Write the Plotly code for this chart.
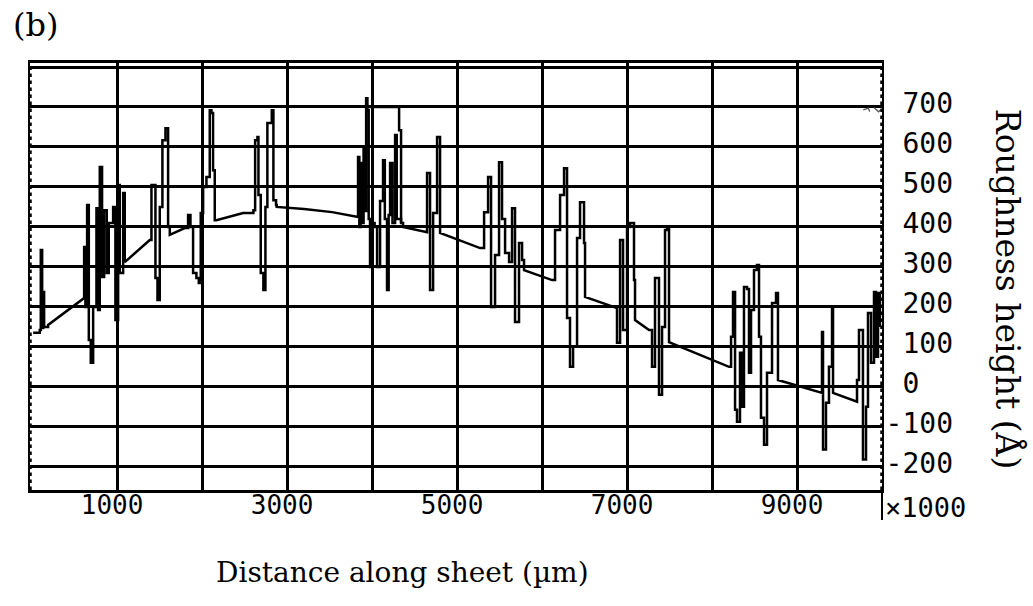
import plotly.graph_objects as go

# Surface profile trace: distance along the sheet (um) vs roughness height (Angstrom).
# None entries split the trace into separate pen strokes.
dist = [
    12, 90, 102, 118, 130, 141, 188, 600, 612, 627, 647, 667, 690, 718, 757, 776, 796, 823, 847,
    878, 902, 953, 980, 1012, 1031, 1071, 1090,
    1384, 1404, 1451, 1475, 1502, 1533, 1569, 1600, 1620, 1796, 1835, 1863, 1894, 1933, 1961,
    1984, 2012, 2051, 2090, 2110, 2129, 2149, 2169, 2482,
    2604, 2624, 2651, 2663, 2690, 2721, 2745, 2768, 2820, 2839, 2870, 2878, 3200, 3530, 3820,
    3835, 3850, 3865, 3882, 3900, 3918, 3930, 3945, 3960, 3976, 4000, 4030, 4059, 4094, 4129,
    4150, 4176, 4195, 4212, 4240, 4271, 4290, 4341, 4365, 4623, 4647, 4682, 4718, 4765, 4800,
    5271, 5318, 5365, 5400, 5447, 5494, 5529, 5565, 5612, 5647, 5682, 5729, 5765, 5788, 6118,
    6153, 6212, 6259, 6294, 6329, 6365, 6412, 6447, 6494, 6506, 6859,
    6882, 6918, 6953, 7000, 7035, 7082, 7094, 7259,
    7294, 7329, 7376, 7412, 7447, 7471, 7494, 8200,
    8224, 8247, 8271, 8294, 8329, 8353, 8376, 8412, 8435, 8459, 8494, 8529, 8553, 8576, 8612,
    8647, 8706, 8753, 8776, 9282,
    9294, 9306, 9341, 9376, 9412, 9424, 9694,
    9706, 9729, 9776, 9812, 9835, 9871, 9906, 9929, 9953, 9976,
    None,
    3945, 4294, 4318, 4341,
]
height = [
    135, 142, 342, 147, 237, 150, 155, 222, 350, 200, 455, 117, 60, 200, 447, 192, 550, 275, 442,
    285, 410, 450, 167, 505, 285, 485, 312,
    367, 505, 272, 217, 450, 617, 647, 400, 380, 397, 430, 400, 285, 272, 260,
    435, 500, 525, 692, 685, 542, 417, 417, 435,
    442, 617, 625, 480, 285, 242, 450, 660, 692, 467, 455, 450, 445, 437, 425,
    575, 400, 560, 410, 600, 440, 722, 692, 420, 300, 410, 400, 300, 465, 567,
    420, 242, 430, 560, 410, 630, 420, 410, 400, 387, 535, 242, 435, 625, 385,
    347, 437, 525, 200, 330, 562, 420, 335, 312, 447, 162, 360, 317, 292, 267,
    392, 480, 547, 172, 50, 100, 372, 462, 360, 225, 197,
    110, 367, 142, 400, 410, 267, 167, 142,
    50, 272, -20, 150, 392, 400, 112, 50,
    125, 237, -57, -87, 85, -50, 250, 245, 35, 192, 292, 305, 125, -77, -145,
    35, 210, 235, 17, -15,
    137, -157, -40, 50, 200, -15, -37,
    17, 142, -182, -50, 185, 60, 237, 75, 235, 150,
    None,
    700, 700, 642, 410,
]

# faint pen mark near the top right of the chart
mark_dist = [9780, 9840, 9860, 9900, 9960, 10000]
mark_height = [693, 697, 685, 700, 688, 697]

x_tick_vals = [1000, 2000, 3000, 4000, 5000, 6000, 7000, 8000, 9000]
x_tick_text = ["1000", "", "3000", "", "5000", "", "7000", "", "9000"]
y_tick_vals = [-200, -100, 0, 100, 200, 300, 400, 500, 600, 700, 800]
y_tick_text = ["-200", "-100", "\u00a00", "\u00a0100", "\u00a0200", "\u00a0300",
               "\u00a0400", "\u00a0500", "\u00a0600", "\u00a0700", ""]

mono = "DejaVu Sans Mono"
serif = "DejaVu Serif"


def pen_path(xs, ys, ramp_gap=150):
    """Closely spaced samples are drawn as vertical pen strokes (step corners);
    widely spaced samples are joined by straight sloping lines."""
    out_x, out_y, prev = [], [], None
    for x, y in zip(xs, ys):
        if x is None:
            out_x.append(None)
            out_y.append(None)
            prev = None
            continue
        if prev is not None and x - prev[0] <= ramp_gap:
            out_x.append(x)
            out_y.append(prev[1])
        out_x.append(x)
        out_y.append(y)
        prev = (x, y)
    return out_x, out_y


path_x, path_y = pen_path(dist, height)

fig = go.Figure()
fig.add_trace(go.Scatter(
    x=path_x, y=path_y, mode="lines", connectgaps=False,
    line=dict(color="black", width=2.5), hoverinfo="skip",
))
fig.add_trace(go.Scatter(
    x=mark_dist, y=mark_height, mode="lines",
    line=dict(color="#555555", width=1.3, dash="dash"), hoverinfo="skip",
))

fig.update_layout(
    width=1033, height=606,
    margin=dict(l=30, r=151, t=63, b=116),
    paper_bgcolor="white", plot_bgcolor="white",
    showlegend=False,
    xaxis=dict(
        range=[-25, 10000], tickvals=x_tick_vals, ticktext=x_tick_text,
        showgrid=True, gridcolor="black", gridwidth=2.5, zeroline=False,
        showline=True, linecolor="black", linewidth=2.5, mirror=True,
        ticks="", tickfont=dict(family=mono, size=26, color="black"),
        ticklabelshift=-5, ticklabelstandoff=-10,
    ),
    yaxis=dict(
        side="right", range=[-258, 810], tickvals=y_tick_vals, ticktext=y_tick_text,
        showgrid=True, gridcolor="black", gridwidth=2.5, zeroline=False,
        showline=True, linecolor="black", linewidth=2, mirror=True,
        ticks="", tickfont=dict(family=mono, size=28, color="black"),
        ticklabelshift=-4, ticklabelstandoff=-4,
    ),
)

# dotted edges on the left and right frame
for xp in (0, 1):
    fig.add_shape(type="line", xref="paper", yref="paper", x0=xp, x1=xp, y0=0, y1=1,
                  line=dict(color="black", width=3.5, dash="dot"))
# right frame continues below the axis, beside the multiplier
fig.add_shape(type="line", xref="paper", yref="paper", x0=1, x1=1, y0=0, y1=-0.07,
              line=dict(color="black", width=2))

fig.add_annotation(text="\u00d71000", xref="paper", yref="paper", x=1, y=-0.042,
                   xanchor="left", yanchor="middle", xshift=1, showarrow=False,
                   font=dict(family=mono, size=27, color="black"))
fig.add_annotation(text="Distance along sheet (\u00b5m)", xref="paper", yref="paper",
                   x=0.437, y=-0.194, xanchor="center", yanchor="middle", showarrow=False,
                   font=dict(family=serif, size=28, color="black"))
fig.add_annotation(text="Roughness height (\u00c5)", xref="paper", yref="paper",
                   x=1.148, y=0.471, xanchor="center", yanchor="middle", textangle=90,
                   showarrow=False, font=dict(family=serif, size=33, color="black"))
fig.add_annotation(text="(b)", xref="paper", yref="paper", x=-0.022, y=1.09,
                   xanchor="left", yanchor="middle", showarrow=False,
                   font=dict(family=serif, size=32, color="black"))

fig.write_html("out.html")
